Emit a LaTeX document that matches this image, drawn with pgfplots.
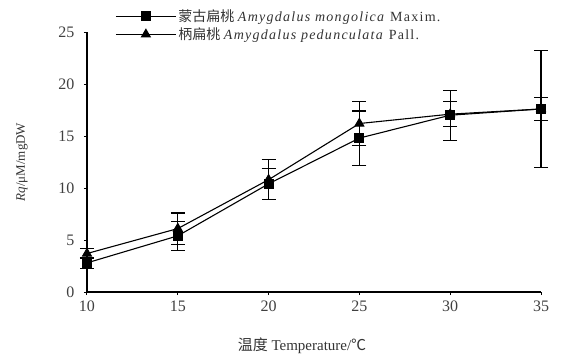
\documentclass[border=0pt]{standalone}
\usepackage{pgfplots}
\pgfplotsset{compat=1.18}
\usepackage{fontspec}
\setmainfont{Liberation Serif}
\newfontfamily\cjk{Noto Sans CJK SC}
\newcommand{\wide}{\addfontfeature{LetterSpace=9}}
\begin{document}
\begin{tikzpicture}
\begin{axis}[
  scale only axis,
  width=454pt, height=260pt,
  xmin=10, xmax=35, ymin=0, ymax=25,
  axis lines=left,
  axis line style={-, line width=1.2pt},
  xtick={10,15,20,25,30,35},
  ytick={0,5,10,15,20,25},
  tick align=outside,
  major tick length=3pt,
  tick style={line width=1pt, black},
  /pgf/number format/assume math mode=true,
  tick label style={font=\fontsize{16}{18}\selectfont, text=black!75},
  xticklabel style={yshift=-2pt},
  yticklabel style={xshift=-6pt},
  xlabel={{\cjk 温度} Temperature/{\cjk ℃}},
  xlabel style={font=\fontsize{15}{17}\selectfont, text=black!80, yshift=-20pt, xshift=-12pt},
  ylabel={\textit{Rq}/μM/mgDW},
  ylabel style={font=\fontsize{13}{15}\selectfont, text=black!80, yshift=24pt},
  clip=false,
  legend style={draw=none, fill=none, at={(0.062,1.095)}, anchor=north west,
    font=\fontsize{14}{16}\selectfont, text=black!80, row sep=1pt, inner sep=0pt},
  legend cell align=left,
  legend image code/.code={\draw[mark repeat=2,mark phase=2,#1] plot coordinates {(0pt,0pt) (30pt,0pt) (60pt,0pt)};},
  every axis plot/.append style={line width=1.1pt, black},
]
\addplot+[black, mark=square*, mark size=4.5pt, mark options={solid, fill=black},
  error bars/.cd, y dir=both, y explicit,
  error bar style={line width=1.1pt, black},
  error mark options={rotate=90, mark size=7pt, line width=1.1pt, black}]
  coordinates {
  (10,2.8) +- (0,0.5)
  (15,5.4) +- (0,1.4)
  (20,10.4) +- (0,1.5)
  (25,14.8) +- (0,2.6)
  (30,17.0) +- (0,2.4)
  (35,17.6) +- (0,5.6)
};
\addlegendentry{{\cjk 蒙古扁桃} {\wide\textit{Amygdalus mongolica} Maxim.}}
\addplot+[black, mark=triangle*, mark size=5pt, mark options={solid, fill=black},
  error bars/.cd, y dir=both, y explicit,
  error bar style={line width=1.1pt, black},
  error mark options={rotate=90, mark size=7pt, line width=1.1pt, black}]
  coordinates {
  (10,3.7) +- (0,0.5)
  (15,6.1) +- (0,1.5)
  (20,10.8) +- (0,1.9)
  (25,16.2) +- (0,2.1)
  (30,17.1) +- (0,1.2)
  (35,17.6) +- (0,1.1)
};
\addlegendentry{{\cjk 柄扁桃} {\wide\textit{Amygdalus pedunculata} Pall.}}
\end{axis}
\path ([shift={(-87pt,-70pt)}]current axis.south west) rectangle ([shift={(29pt,32pt)}]current axis.north east);
\end{tikzpicture}
\end{document}
